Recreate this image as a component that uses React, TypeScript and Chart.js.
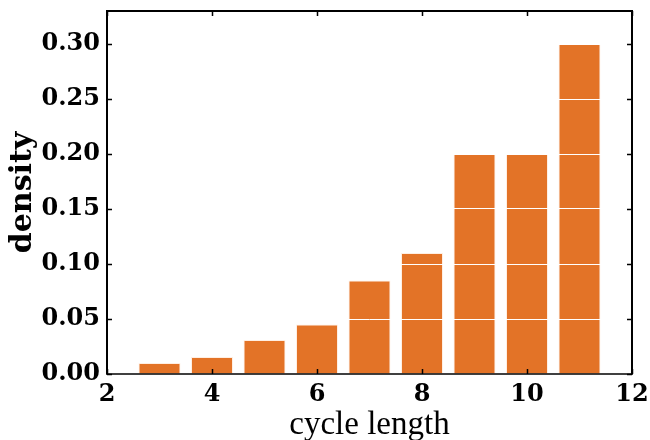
import React, { useEffect, useRef } from "react";
import { Chart, registerables } from "chart.js";

Chart.register(...registerables);

const cycleLengths = [3, 4, 5, 6, 7, 8, 9, 10, 11];
const densities = [0.01, 0.0155, 0.031, 0.045, 0.085, 0.11, 0.2, 0.2, 0.3];
const xTickValues = [2, 4, 6, 8, 10, 12];
const yTickValues = [0, 0.05, 0.1, 0.15, 0.2, 0.25, 0.3];

const TICK_FONT = { family: "'DejaVu Serif'", weight: "bold" as const, size: 24 };

const framePlugin = {
  id: "frame",
  afterDraw(chart: any) {
    const { ctx, chartArea } = chart;
    const { left, right, top, bottom } = chartArea;
    const xs = chart.scales.x;
    const ys = chart.scales.y;
    ctx.save();
    ctx.strokeStyle = "#000";
    ctx.lineWidth = 1.5;
    const tl = 5;
    ctx.beginPath();
    for (const v of yTickValues) {
      const py = Math.round(ys.getPixelForValue(v)) + 0.5;
      ctx.moveTo(left, py);
      ctx.lineTo(left + tl, py);
      ctx.moveTo(right, py);
      ctx.lineTo(right - tl, py);
    }
    for (const v of xTickValues) {
      const px = Math.round(xs.getPixelForValue(v)) + 0.5;
      ctx.moveTo(px, bottom);
      ctx.lineTo(px, bottom - tl);
      ctx.moveTo(px, top);
      ctx.lineTo(px, top + tl);
    }
    ctx.stroke();
    ctx.lineWidth = 2;
    ctx.beginPath();
    ctx.moveTo(left, bottom);
    ctx.lineTo(left, top);
    ctx.lineTo(right, top);
    ctx.lineTo(right, bottom);
    ctx.stroke();
    ctx.lineWidth = 1.5;
    ctx.beginPath();
    ctx.moveTo(left - 1, bottom);
    ctx.lineTo(right + 1, bottom);
    ctx.stroke();
    ctx.restore();
  },
};

export default function App() {
  const ref = useRef<HTMLCanvasElement | null>(null);

  useEffect(() => {
    document.body.style.margin = "0";
    const canvas = ref.current;
    if (!canvas) return;
    const chart = new Chart(canvas, {
      type: "bar",
      data: {
        datasets: [
          {
            data: cycleLengths.map((x, i) => ({ x, y: densities[i] })),
            backgroundColor: "#e37327",
            borderColor: "rgba(255,235,220,0.8)",
            borderWidth: 1,
            barPercentage: 0.8,
            categoryPercentage: 1,
          },
        ],
      },
      plugins: [framePlugin],
      options: {
        animation: false,
        responsive: false,
        devicePixelRatio: 1,
        layout: { padding: { top: 11, right: 18, left: 0, bottom: 0 } },
        plugins: { legend: { display: false }, tooltip: { enabled: false } },
        scales: {
          x: {
            type: "linear",
            min: 2,
            max: 12,
            offset: false,
            afterBuildTicks: (scale: any) => {
              scale.ticks = xTickValues.map((v) => ({ value: v }));
            },
            afterFit: (scale: any) => {
              scale.height = 66;
              scale.paddingLeft = 0;
              scale.paddingRight = 0;
            },
            grid: { display: false, drawTicks: false, tickLength: 0 },
            border: { display: false },
            ticks: {
              font: TICK_FONT,
              color: "#000",
              padding: 6,
              maxRotation: 0,
              autoSkip: false,
              callback: (v: any) => String(v),
            },
            title: {
              display: true,
              text: "cycle length",
              color: "#000",
              font: { family: "'Liberation Serif'", size: 33, lineHeight: 1 },
              padding: { top: 0, bottom: -2 },
            },
          },
          y: {
            min: 0,
            max: 0.33,
            afterBuildTicks: (scale: any) => {
              scale.ticks = yTickValues.map((v) => ({ value: v }));
            },
            afterFit: (scale: any) => {
              scale.width = 107;
              scale.paddingTop = 0;
              scale.paddingBottom = 0;
            },
            grid: {
              color: "#ffffff",
              lineWidth: 1,
              drawTicks: false,
              tickLength: 0,
              z: 1,
            },
            border: { display: false },
            ticks: {
              font: TICK_FONT,
              color: "#000",
              padding: 7,
              autoSkip: false,
              callback: (v: any) => Number(v).toFixed(2),
            },
            title: {
              display: true,
              text: "density",
              color: "#000",
              font: { family: "'DejaVu Serif'", weight: "bold", size: 30, lineHeight: 1.2 },
              padding: { top: 5, bottom: 0 },
            },
          },
        },
      },
    });
    return () => chart.destroy();
  }, []);

  return (
    <div style={{ width: 650, height: 440 }}>
      <canvas ref={ref} width={650} height={440} style={{ display: "block" }} />
    </div>
  );
}
